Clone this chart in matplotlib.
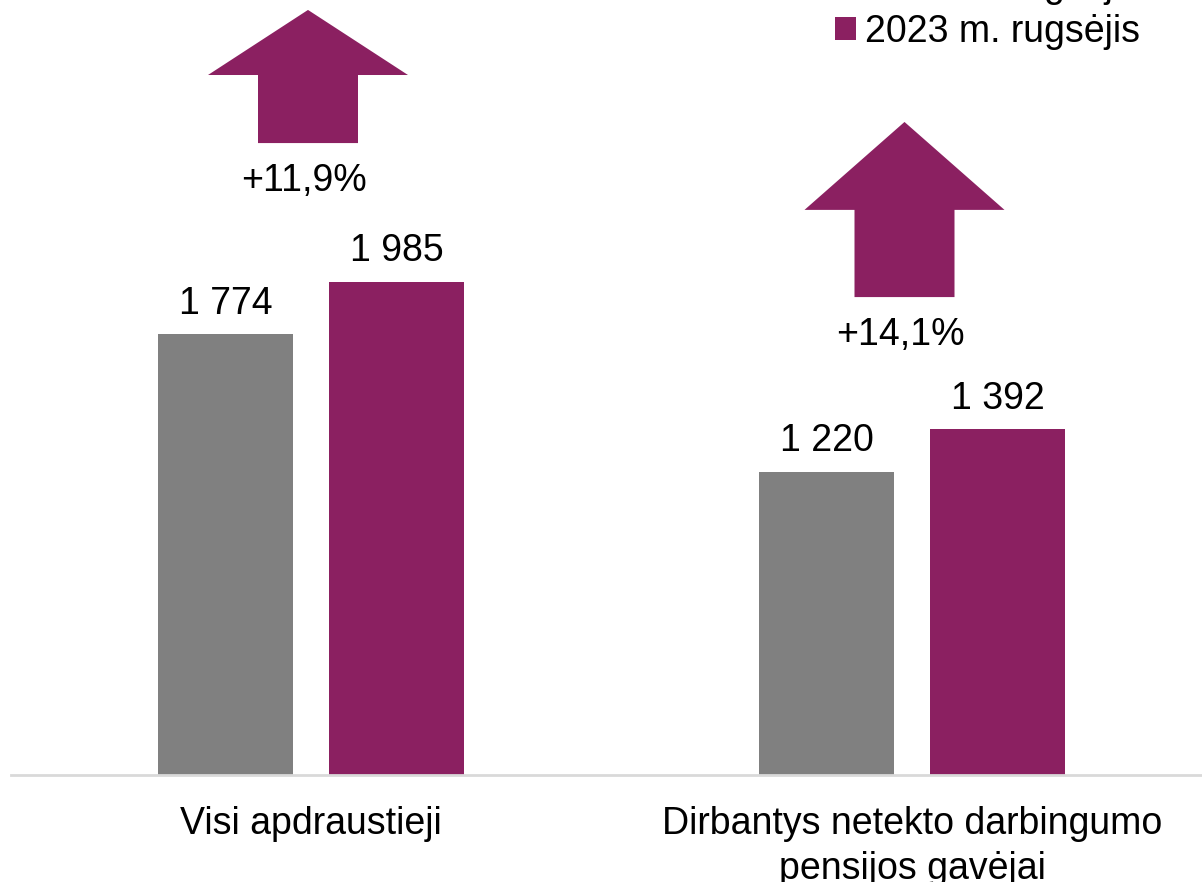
import matplotlib
matplotlib.use("Agg")
import matplotlib.pyplot as plt
from matplotlib.patches import Polygon, Patch
import numpy as np

categories = ["Visi apdraustieji", "Dirbantys netekto darbingumo\npensijos gavėjai"]
series_names = ["2022 m. rugsėjis", "2023 m. rugsėjis"]
values_2022 = [1774, 1220]
values_2023 = [1985, 1392]
changes = ["+11,9%", "+14,1%"]

GRAY = "#808080"
PURPLE = "#8B2061"
FONT = "Liberation Sans"
FS = 27

plt.rcParams["font.family"] = [FONT, "DejaVu Sans"]

W, H = 1202, 882
fig = plt.figure(figsize=(W / 100, H / 100), dpi=100)
unit_px = 601.0
left_px = 311 - 0.5 * unit_px
base_px = 775
ax = fig.add_axes([left_px / W, 1 - base_px / H, 2 * unit_px / W, base_px / H])
px_per_val = 0.2484
ax.set_xlim(-0.5, 1.5)
ax.set_ylim(0, base_px / px_per_val)

x = np.arange(len(categories))
off = 0.1423
bw = 135 / unit_px
b1 = ax.bar(x - off, values_2022, bw, color=GRAY, label=series_names[0], zorder=2)
b2 = ax.bar(x + off, values_2023, bw, color=PURPLE, label=series_names[1], zorder=2)

for bars, vals in ((b1, values_2022), (b2, values_2023)):
    for r, v in zip(bars, vals):
        ax.annotate(f"{v:,}".replace(",", " "), (r.get_x() + r.get_width() / 2, v),
                    xytext=(0, 9), textcoords="offset points", ha="center", va="bottom",
                    fontsize=FS, color="black")

# arrows (shaft bottom, head base, apex) in data units
arrow_geom = [(2544, 2818, 3080), (1924, 2275, 2629)]
arrow_shift = [-3 / unit_px, -7.5 / unit_px]
pct_y = [2390, 1770]
head_w = 200 / unit_px
shaft_w = 100 / unit_px
for i, (sb, hb, ap) in enumerate(arrow_geom):
    cx = x[i] + arrow_shift[i]
    pts = [(cx - shaft_w / 2, sb), (cx + shaft_w / 2, sb), (cx + shaft_w / 2, hb),
           (cx + head_w / 2, hb), (cx, ap), (cx - head_w / 2, hb), (cx - shaft_w / 2, hb)]
    ax.add_patch(Polygon(pts, closed=True, facecolor=PURPLE, edgecolor="none", zorder=3,
                         clip_on=False))
    ax.text(cx - 4 / unit_px, pct_y[i], changes[i], ha="center", va="center", fontsize=FS,
            color="black")

for s in ["top", "right", "left"]:
    ax.spines[s].set_visible(False)
ax.spines["bottom"].set_color("#D9D9D9")
ax.spines["bottom"].set_linewidth(2)
ax.set_yticks([])
ax.set_xticks(x)
ax.set_xticklabels(categories, fontsize=FS, linespacing=1.32)
ax.tick_params(axis="x", length=0, pad=22)

handles = [Patch(facecolor=GRAY, edgecolor="none"), Patch(facecolor=PURPLE, edgecolor="none")]
fig.legend(handles, series_names, loc="lower left",
           bbox_to_anchor=(835 / W, 1 - 50 / H), frameon=False, fontsize=FS,
           handlelength=0.55, handleheight=0.55, handletextpad=0.25, labelspacing=0.25,
           borderpad=0.0, borderaxespad=0.0)

fig.savefig("out.png", dpi=100)
